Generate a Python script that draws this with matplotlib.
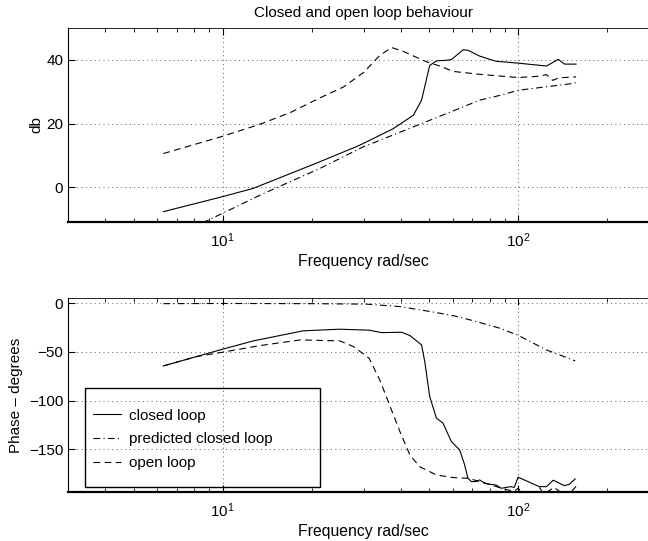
import numpy as np
import matplotlib
matplotlib.use("Agg")
import matplotlib.pyplot as plt
from matplotlib.patches import Rectangle

plt.rcParams['font.family'] = ['Liberation Sans', 'DejaVu Sans']
plt.rcParams['font.size'] = 11

# Magnitude (db)
f_mag_cl = [6.3, 10, 12.7, 21.3, 29.1, 37.8, 44.2, 47.1, 50.2, 52.9, 57, 59.4, 65.2, 67.8,
            74.1, 84, 100, 124.7, 136.7, 143.5, 157]
mag_cl = [-7.6, -2.9, -0.3, 8.0, 13.2, 18.4, 22.6, 27.3, 38.2, 39.6, 39.8, 40.0, 43.1, 42.9,
          41.1, 39.5, 38.9, 38.0, 40.1, 38.6, 38.6]

f_mag_pred = [6.3, 10, 13.4, 21.3, 29.9, 33.1, 50.2, 74.1, 86.7, 100, 152, 157]
mag_pred = [-17.0, -8.1, -2.4, 5.9, 12.7, 14.3, 21.0, 27.3, 28.8, 30.4, 32.5, 32.8]

f_mag_ol = [6.3, 10, 13.4, 17, 21.3, 25.6, 30, 34, 37.3, 40.8, 49, 54.3, 60.3, 76.2,
            100, 118, 124.7, 131, 137, 157]
mag_ol = [10.6, 16.0, 19.8, 23.5, 28.0, 31.4, 36.0, 41.3, 43.8, 42.6, 39.3, 38.0, 36.3, 35.3,
          34.4, 34.8, 35.3, 33.5, 34.3, 34.6]

# Phase (degrees)
f_ph_cl = [6.3, 10, 12.7, 18.7, 24.9, 31.3, 34.5, 40.3, 43, 47.1, 48.3, 50.2, 52.9, 55.7,
           59.4, 63.4, 65.9, 67.6, 69.5, 72.2, 74.1, 77, 80, 84.2, 87.7, 94.2, 97, 100,
           118, 124.7, 131.4, 143.5, 149, 156]
ph_cl = [-64.4, -47.2, -38.7, -28.4, -26.7, -27.7, -30.2, -29.8, -33.2, -42.8, -60, -95.9,
         -118, -123.2, -142, -150.6, -166, -179.7, -183.2, -183, -181.4, -184.8, -185.8,
         -186.6, -190, -188.3, -189, -178.6, -188.3, -188.3, -181.7, -187.3, -185.8, -180.4]

f_ph_pred = [6.3, 10, 20, 30.7, 39.8, 51.4, 60.7, 70.5, 86.7, 100, 124.7, 156]
ph_pred = [-0.5, -0.3, -0.5, -1, -3.5, -9, -13, -18, -25.7, -33, -48, -59.2]

f_ph_ol = [6.3, 8.17, 10, 13.4, 18.3, 24.9, 27.7, 31.3, 34, 36.7, 39.8, 43, 46.4, 52.9,
           60.3, 67.8, 72, 80, 90, 97, 100, 104, 112, 118, 122, 128, 132, 138, 146, 157]
ph_ol = [-64.4, -54.8, -50.3, -43.5, -37.7, -38.7, -44.5, -56.5, -78.7, -104.4, -131.8,
         -155.7, -167.8, -176.3, -179, -179.7, -182, -186, -191, -193, -190, -196, -199,
         -189, -196, -192, -189, -193, -199, -188]

labels = ["closed loop", "predicted closed loop", "open loop"]
styles = {
    "closed loop": dict(color="k", lw=0.8, ls="-"),
    "predicted closed loop": dict(color="k", lw=0.8, ls=(0, (6, 3, 1, 3))),
    "open loop": dict(color="k", lw=0.8, ls=(0, (6, 4))),
}

fig = plt.figure(figsize=(6.48, 5.41), dpi=100)
ax1 = fig.add_axes([0.1052, 0.5902, 0.912, 0.3586])
ax2 = fig.add_axes([0.1052, 0.0911, 0.912, 0.3575])


def style_axes(ax):
    ax.set_xscale("log")
    ax.set_xlim(3, 300)
    ax.grid(True, which="major", color="0.35", ls=(0, (1, 3.5)), lw=0.7)
    ax.tick_params(which="both", direction="in", top=True, right=False)
    ax.tick_params(which="major", length=5, width=0.8)
    ax.tick_params(which="minor", length=3, width=0.6)
    ax.tick_params(axis="x", which="major", pad=7)
    ax.spines["right"].set_visible(False)
    ax.spines["bottom"].set_linewidth(1.6)
    ax.spines["left"].set_linewidth(0.8)
    ax.spines["top"].set_linewidth(0.6)
    ax.set_xlabel("Frequency rad/sec", labelpad=3, fontsize=11.3)


ax1.plot(f_mag_cl, mag_cl, **styles["closed loop"])
ax1.plot(f_mag_pred, mag_pred, **styles["predicted closed loop"])
ax1.plot(f_mag_ol, mag_ol, **styles["open loop"])
style_axes(ax1)
ax1.set_ylim(-10.75, 50)
ax1.set_yticks([0, 20, 40])
ax1.set_ylabel("db", labelpad=2)
ax1.set_title("Closed and open loop behaviour", fontsize=11, pad=8)

lines = []
lines += ax2.plot(f_ph_cl, ph_cl, **styles["closed loop"])
lines += ax2.plot(f_ph_pred, ph_pred, **styles["predicted closed loop"])
lines += ax2.plot(f_ph_ol, ph_ol, **styles["open loop"])
style_axes(ax2)
ax2.set_ylim(-193.5, 5)
ax2.set_yticks([0, -50, -100, -150])
ax2.set_ylabel("Phase \u2013 degrees", labelpad=4)

# legend frame is see-through, grid shows inside it
ax2.add_patch(Rectangle((0.0293, 0.0228), 0.3967, 0.512, transform=ax2.transAxes,
                        facecolor="none", edgecolor="k", lw=1.0, zorder=4))
leg = ax2.legend(lines, labels, loc="upper left", bbox_to_anchor=(0.0158, 0.509),
                 frameon=False, borderpad=1.0, borderaxespad=0, labelspacing=0.65,
                 handlelength=1.85, handletextpad=0.5, fontsize=11)
leg.set_zorder(5)
for h in leg.legend_handles:
    h.set_linewidth(0.8)

plt.savefig("out.png", dpi=100)
